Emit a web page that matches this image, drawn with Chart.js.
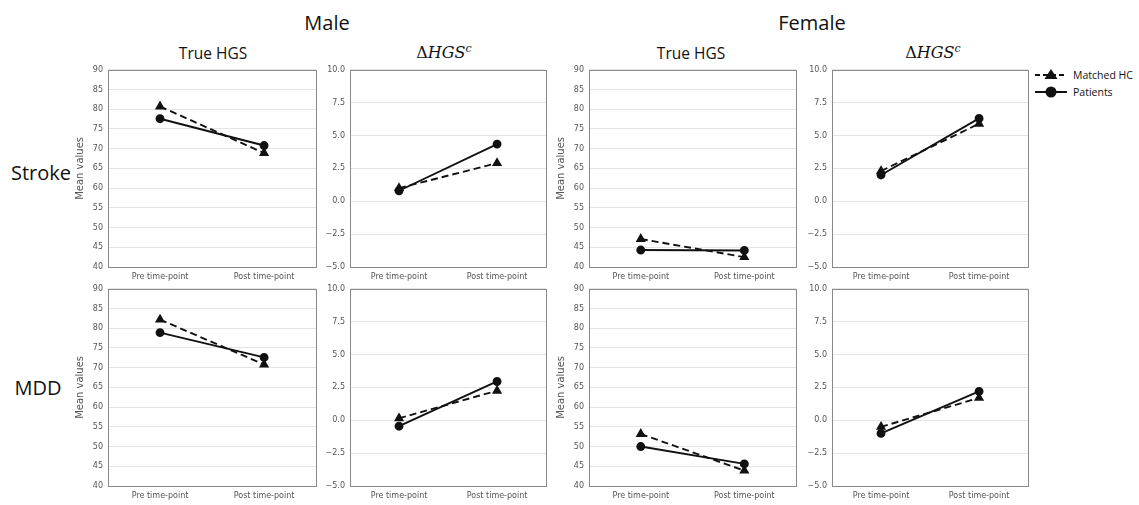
<!DOCTYPE html>
<html>
<head>
<meta charset="utf-8">
<script src="https://cdn.jsdelivr.net/npm/chart.js@4.4.1/dist/chart.umd.min.js"></script>
<style>
  body { margin: 0; background: #fff; width: 1139px; height: 505px; position: relative; overflow: hidden; font-family: "Open Sans", sans-serif; }
  canvas { position: absolute; }
  .lbl { position: absolute; transform: translate(-50%, -50%); white-space: nowrap; color: #111; }
  .big { font-size: 20px; }
  .col { font-size: 15.5px; }
  .math { font-family: "DejaVu Serif", serif; font-size: 16px; }
  .math i { font-style: italic; }
  .legend { position: absolute; left: 1034px; top: 66px; font-size: 10.5px; color: #111; }
  .legend div { height: 17px; display: flex; align-items: center; }
  .legend svg { margin-right: 5px; }
</style>
</head>
<body>
<div class="lbl big" style="left:327px;top:22px">Male</div>
<div class="lbl big" style="left:812px;top:22px">Female</div>
<div class="lbl col" style="left:213px;top:53px">True HGS</div>
<div class="lbl math" style="left:444px;top:52px">Δ<i>HGS</i><sup style="font-size:11px"><i>c</i></sup></div>
<div class="lbl col" style="left:691px;top:53px">True HGS</div>
<div class="lbl math" style="left:933px;top:52px">Δ<i>HGS</i><sup style="font-size:11px"><i>c</i></sup></div>
<div class="lbl big" style="left:41px;top:172px">Stroke</div>
<div class="lbl big" style="left:38px;top:387px">MDD</div>

<div class="legend">
  <div><svg width="34" height="14"><line x1="1" y1="7" x2="33" y2="7" stroke="#111" stroke-width="2" stroke-dasharray="5,3"/><polygon points="17,1 23.5,11 10.5,11" fill="#111"/></svg>Matched HC</div>
  <div><svg width="34" height="14"><line x1="1" y1="7" x2="33" y2="7" stroke="#111" stroke-width="2"/><circle cx="17" cy="7" r="5.5" fill="#111"/></svg>Patients</div>
</div>

<canvas id="c1"></canvas>
<canvas id="c2"></canvas>
<canvas id="c3"></canvas>
<canvas id="c4"></canvas>
<canvas id="c5"></canvas>
<canvas id="c6"></canvas>
<canvas id="c7"></canvas>
<canvas id="c8"></canvas>

<script>
const categories = ['Pre time-point', 'Post time-point'];
const seriesNames = ['Matched HC', 'Patients'];

// Stroke row
const maleStrokeHgsHC = [80.7, 68.9];
const maleStrokeHgsPat = [77.6, 70.8];
const maleStrokeDeltaHC = [1.0, 2.9];
const maleStrokeDeltaPat = [0.8, 4.35];
const femaleStrokeHgsHC = [47.1, 42.5];
const femaleStrokeHgsPat = [44.3, 44.2];
const femaleStrokeDeltaHC = [2.3, 5.9];
const femaleStrokeDeltaPat = [2.0, 6.3];

// MDD row
const maleMddHgsHC = [82.2, 70.8];
const maleMddHgsPat = [78.9, 72.6];
const maleMddDeltaHC = [0.15, 2.25];
const maleMddDeltaPat = [-0.45, 2.95];
const femaleMddHgsHC = [53.2, 43.9];
const femaleMddHgsPat = [50.0, 45.6];
const femaleMddDeltaHC = [-0.5, 1.7];
const femaleMddDeltaPat = [-1.0, 2.2];

const hgsTicks = [40, 45, 50, 55, 60, 65, 70, 75, 80, 85, 90];
const deltaTicks = [-5, -2.5, 0, 2.5, 5, 7.5, 10];

// box around plot area
const frame = {
  id: 'frame',
  beforeDatasetsDraw(chart) {
    const a = chart.chartArea, c = chart.ctx;
    c.save();
    c.strokeStyle = '#8a8a8a';
    c.lineWidth = 1;
    c.strokeRect(Math.round(a.left) + 0.5, Math.round(a.top) + 0.5, Math.round(a.right - a.left), Math.round(a.bottom - a.top));
    c.restore();
  }
};

function panel(id, plotLeft, plotTop, plotRight, plotBottom, hc, pat, ticks, isHgs) {
  const axisW = isHgs ? 34 : 32;
  const padTop = 8, padRight = 4, xH = 22;
  const el = document.getElementById(id);
  el.width = axisW + (plotRight - plotLeft) + padRight;
  el.height = padTop + (plotBottom - plotTop) + xH;
  el.style.left = (plotLeft - axisW) + 'px';
  el.style.top = (plotTop - padTop) + 'px';

  new Chart(el, {
    type: 'line',
    data: {
      labels: categories,
      datasets: [{
        label: seriesNames[0],
        data: hc,
        borderColor: '#111',
        backgroundColor: '#111',
        borderWidth: 1.9,
        borderDash: [7, 4],
        pointStyle: 'triangle',
        pointRadius: 4,
        pointBackgroundColor: '#111',
        pointBorderColor: '#111'
      }, {
        label: seriesNames[1],
        data: pat,
        borderColor: '#111',
        backgroundColor: '#111',
        borderWidth: 1.9,
        pointStyle: 'circle',
        pointRadius: 3.5,
        pointBackgroundColor: '#111',
        pointBorderColor: '#111'
      }]
    },
    options: {
      responsive: false,
      animation: false,
      devicePixelRatio: 1,
      layout: { padding: { top: padTop, right: padRight, left: 0, bottom: 0 } },
      plugins: { legend: { display: false }, tooltip: { enabled: false } },
      scales: {
        x: {
          offset: true,
          grid: { display: false, drawTicks: false },
          border: { display: false },
          ticks: { color: '#555', font: { family: 'DejaVu Sans', size: 8 }, padding: 5, maxRotation: 0 },
          afterFit(s) { s.height = xH; }
        },
        y: {
          min: ticks[0],
          max: ticks[ticks.length - 1],
          afterBuildTicks(s) { s.ticks = ticks.map(v => ({ value: v })); },
          grid: { color: '#e4e4e4', lineWidth: 1, drawTicks: false },
          border: { display: false },
          ticks: {
            color: '#555',
            font: { family: 'DejaVu Sans', size: 8 },
            padding: 5,
            callback: v => isHgs ? String(v) : (v < 0 ? '\u2212' + Math.abs(v).toFixed(1) : v.toFixed(1))
          },
          title: {
            display: isHgs,
            text: 'Mean values',
            color: '#555',
            font: { family: 'DejaVu Sans', size: 10 },
            padding: { top: 0, bottom: 0 }
          },
          afterFit(s) { s.width = axisW; }
        }
      }
    },
    plugins: [frame]
  });
}

panel('c1', 108, 68, 318, 267, maleStrokeHgsHC, maleStrokeHgsPat, hgsTicks, true);
panel('c2', 350, 68, 548, 267, maleStrokeDeltaHC, maleStrokeDeltaPat, deltaTicks, false);
panel('c3', 589, 68, 798, 267, femaleStrokeHgsHC, femaleStrokeHgsPat, hgsTicks, true);
panel('c4', 832, 68, 1030, 267, femaleStrokeDeltaHC, femaleStrokeDeltaPat, deltaTicks, false);
panel('c5', 108, 287, 318, 486, maleMddHgsHC, maleMddHgsPat, hgsTicks, true);
panel('c6', 350, 287, 548, 486, maleMddDeltaHC, maleMddDeltaPat, deltaTicks, false);
panel('c7', 589, 287, 798, 486, femaleMddHgsHC, femaleMddHgsPat, hgsTicks, true);
panel('c8', 832, 287, 1030, 486, femaleMddDeltaHC, femaleMddDeltaPat, deltaTicks, false);
</script>
</body>
</html>
